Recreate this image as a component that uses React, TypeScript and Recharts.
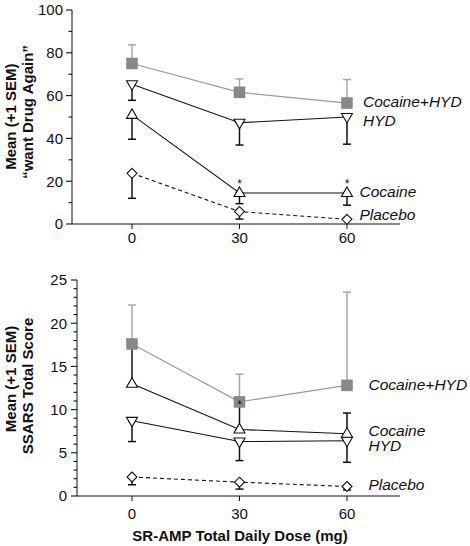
import React from 'react';
import { LineChart, Line, XAxis, YAxis, ErrorBar } from 'recharts';

const doses = [0, 30, 60];

// top panel: "want Drug Again" (mean, +1 SEM)
const wantCocHyd = [75, 61.5, 56.5];
const wantCocHydSem = [8.7, 6.3, 11];
const wantHyd = [65.3, 47.3, 50];
const wantHydSem = [7.5, 10.4, 12.7];
const wantCoc = [51, 14.5, 14.5];
const wantCocSem = [11.4, 5, 5.7];
const wantPlacebo = [23.7, 5.8, 2.2];
const wantPlaceboSem = [11.7, 3.5, 0];
const wantCocStars = [false, true, true];

// bottom panel: SSARS total score
const ssarsCocHyd = [17.6, 10.9, 12.8];
const ssarsCocHydSem = [4.5, 3.2, 10.8];
const ssarsCoc = [13, 7.7, 7.2];
const ssarsCocSem = [4.8, 3.0, 2.4];
const ssarsHyd = [8.7, 6.3, 6.4];
const ssarsHydSem = [2.4, 2.2, 2.5];
const ssarsPlacebo = [2.2, 1.6, 1.1];
const ssarsPlaceboSem = [0.9, 0.8, 0.4];
const ssarsCocHydStars = [false, true, false];

const doseTicks = [0, 30, 60];
const wantMajor = [0, 20, 40, 60, 80, 100];
const wantTicks = [0, 10, 20, 30, 40, 50, 60, 70, 80, 90, 100];
const ssarsMajor = [0, 5, 10, 15, 20, 25];
const ssarsTicks = Array.from({ length: 26 }, (_, i) => i);

const INK = '#111';
const GRAY_LINE = '#9a9a9a';
const GRAY_ERR = '#a8a8a8';
const GRAY_FILL = '#888';

// error bars only go one way: [below, above]
const up = (e: number) => [0, e];
const down = (e: number) => [e, 0];

const wantRows = doses.map((dose, i) => ({
  dose,
  cocHyd: wantCocHyd[i],
  cocHydErr: up(wantCocHydSem[i]),
  hyd: wantHyd[i],
  hydErr: down(wantHydSem[i]),
  coc: wantCoc[i],
  cocErr: down(wantCocSem[i]),
  placebo: wantPlacebo[i],
  placeboErr: down(wantPlaceboSem[i]),
}));

const ssarsRows = doses.map((dose, i) => ({
  dose,
  cocHyd: ssarsCocHyd[i],
  cocHydErr: up(ssarsCocHydSem[i]),
  hyd: ssarsHyd[i],
  hydErr: down(ssarsHydSem[i]),
  coc: ssarsCoc[i],
  cocErr: up(ssarsCocSem[i]),
  placebo: ssarsPlacebo[i],
  placeboErr: down(ssarsPlaceboSem[i]),
}));

type Shape = 'square' | 'up' | 'down' | 'diamond';

const drawShape = (shape: Shape, cx: number, cy: number) => {
  if (shape === 'square')
    return <rect x={cx - 5.5} y={cy - 5.5} width={11} height={11} fill={GRAY_FILL} stroke="#808080" strokeWidth={0.5} />;
  if (shape === 'up')
    return <polygon points={`${cx},${cy - 6} ${cx + 5.5},${cy + 3.5} ${cx - 5.5},${cy + 3.5}`} fill="#fff" stroke={INK} strokeWidth={1.1} />;
  if (shape === 'down')
    return <polygon points={`${cx - 5.5},${cy - 3.5} ${cx + 5.5},${cy - 3.5} ${cx},${cy + 6}`} fill="#fff" stroke={INK} strokeWidth={1.1} />;
  return <polygon points={`${cx},${cy - 5} ${cx + 5},${cy} ${cx},${cy + 5} ${cx - 5},${cy}`} fill="#fff" stroke={INK} strokeWidth={1.1} />;
};

// marker + optional significance star + series name after the last point
const makeDot = (shape: Shape, name: string, ldx: number, ldy: number, stars?: boolean[], starDy = 0) => (p: any) => {
  const { cx, cy, index } = p;
  return (
    <g key={`d-${name}-${index}`}>
      {drawShape(shape, cx, cy)}
      {stars && stars[index] && (
        <text x={cx} y={cy + starDy} textAnchor="middle" fontSize={12} fill={INK}>*</text>
      )}
      {index === doses.length - 1 && (
        <text x={cx + ldx} y={cy + ldy} fontSize={15.5} fontStyle="italic" fill={INK}>{name}</text>
      )}
    </g>
  );
};

const makeYTick = (major: number[], labelGap: number) => (p: any) => {
  const { x, y, payload } = p;
  const isMajor = major.includes(payload.value);
  return (
    <g>
      <line x1={x - (isMajor ? 6 : 3.5)} x2={x} y1={y} y2={y} stroke={INK} strokeWidth={1.1} />
      {isMajor && (
        <text x={x - labelGap} y={y} dy="0.36em" textAnchor="end" fontSize={15} fill={INK}>{payload.value}</text>
      )}
    </g>
  );
};

const YTitle = ({ lines, xs, ys }: any) => (
  <g>
    {lines.map((t: string, i: number) => (
      <text key={i} x={xs[i]} y={ys[i]} transform={`rotate(-90 ${xs[i]} ${ys[i]})`} textAnchor="middle"
        fontSize={15} fontWeight="bold" fill={INK}>{t}</text>
    ))}
  </g>
);

const XTitle = () => (
  <text x={240} y={290.7} textAnchor="middle" fontSize={15} fontWeight="bold" fill={INK}>
    SR-AMP Total Daily Dose (mg)
  </text>
);

const series = (solidGray: boolean) => ({
  stroke: solidGray ? GRAY_LINE : INK,
  strokeWidth: 1.1,
  isAnimationActive: false,
  activeDot: false as const,
});

export default function App() {
  return (
    <div style={{ position: 'absolute', left: 0, top: 0, width: 470, height: 546, background: '#fff',
      fontFamily: '"Liberation Sans", Arial, Helvetica, sans-serif' }}>
      <div style={{ position: 'absolute', left: 0, top: 0 }}>
        <LineChart width={470} height={250} data={wantRows} margin={{ top: 10, right: 70, bottom: 0, left: 0 }}>
          <XAxis dataKey="dose" type="number" domain={[-16.75, 74.8]} ticks={doseTicks} interval={0}
            height={26} tickSize={5} tickMargin={3} stroke={INK} tick={{ fontSize: 15, fill: INK }} />
          <YAxis type="number" domain={[0, 100]} ticks={wantTicks} interval={0} width={72}
            tickSize={0} tickMargin={0} tickLine={false} stroke={INK} tick={makeYTick(wantMajor, 9)}
            label={<YTitle lines={['Mean (+1 SEM)', '\u201Cwant Drug Again\u201D']} xs={[16, 32.5]} ys={[116.7, 112]} />} />
          <Line dataKey="cocHyd" {...series(true)} dot={makeDot('square', 'Cocaine+HYD', 16, 3.5)}>
            <ErrorBar dataKey="cocHydErr" direction="y" width={4} stroke={GRAY_ERR} strokeWidth={1.5} />
          </Line>
          <Line dataKey="hyd" {...series(false)} dot={makeDot('down', 'HYD', 16, 8.7)}>
            <ErrorBar dataKey="hydErr" direction="y" width={4} stroke={INK} strokeWidth={1.5} />
          </Line>
          <Line dataKey="coc" {...series(false)} dot={makeDot('up', 'Cocaine', 12.5, 3.7, wantCocStars, -5)}>
            <ErrorBar dataKey="cocErr" direction="y" width={4} stroke={INK} strokeWidth={1.5} />
          </Line>
          <Line dataKey="placebo" {...series(false)} strokeDasharray="4 3" dot={makeDot('diamond', 'Placebo', 12.5, 1)}>
            <ErrorBar dataKey="placeboErr" direction="y" width={4} stroke={INK} strokeWidth={1.5} />
          </Line>
        </LineChart>
      </div>
      <div style={{ position: 'absolute', left: 0, top: 250 }}>
        <LineChart width={470} height={296} data={ssarsRows} margin={{ top: 30, right: 70, bottom: 0, left: 0 }}>
          <XAxis dataKey="dose" type="number" domain={[-15.35, 74.8]} ticks={doseTicks} interval={0}
            height={50} tickSize={5} tickMargin={7} stroke={INK} tick={{ fontSize: 15, fill: INK }}
            label={<XTitle />} />
          <YAxis type="number" domain={[0, 25]} ticks={ssarsTicks} interval={0} width={77}
            tickSize={0} tickMargin={0} tickLine={false} stroke={INK} tick={makeYTick(ssarsMajor, 10)}
            label={<YTitle lines={['Mean (+1 SEM)', 'SSARS Total Score']} xs={[16, 33]} ys={[129, 136]} />} />
          <Line dataKey="cocHyd" {...series(true)} dot={makeDot('square', 'Cocaine+HYD', 21.5, 4.3, ssarsCocHydStars, 7)}>
            <ErrorBar dataKey="cocHydErr" direction="y" width={4} stroke={GRAY_ERR} strokeWidth={1.5} />
          </Line>
          <Line dataKey="hyd" {...series(false)} dot={makeDot('down', 'HYD', 21.5, 10.3)}>
            <ErrorBar dataKey="hydErr" direction="y" width={4} stroke={INK} strokeWidth={1.5} />
          </Line>
          <Line dataKey="coc" {...series(false)} dot={makeDot('up', 'Cocaine', 21.5, 1.8)}>
            <ErrorBar dataKey="cocErr" direction="y" width={4} stroke={INK} strokeWidth={1.5} />
          </Line>
          <Line dataKey="placebo" {...series(false)} strokeDasharray="4 3" dot={makeDot('diamond', 'Placebo', 21.5, 4)}>
            <ErrorBar dataKey="placeboErr" direction="y" width={4} stroke={INK} strokeWidth={1.5} />
          </Line>
        </LineChart>
      </div>
    </div>
  );
}
